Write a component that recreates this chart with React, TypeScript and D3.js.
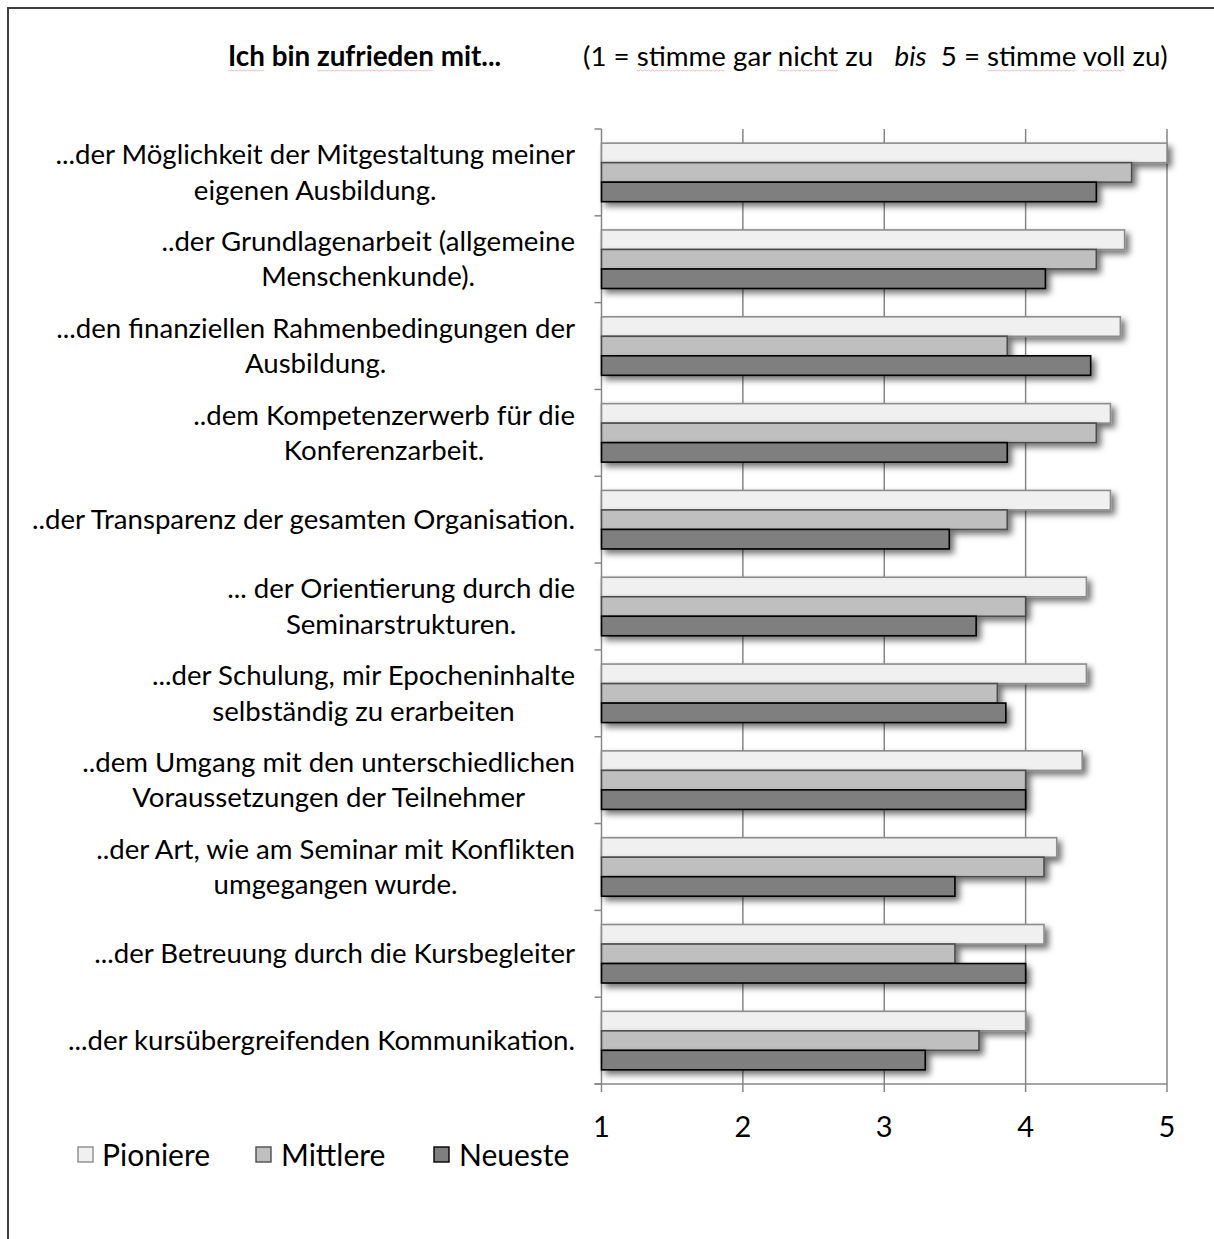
import React, { useEffect, useRef } from "react";
import * as d3 from "d3";

// Category labels, split into the lines they are printed on
const categories: string[][] = [
  ["...der Möglichkeit der Mitgestaltung meiner", "eigenen Ausbildung."],
  ["..der Grundlagenarbeit (allgemeine", "Menschenkunde)."],
  ["...den finanziellen Rahmenbedingungen der", "Ausbildung."],
  ["..dem Kompetenzerwerb für die", "Konferenzarbeit."],
  ["..der Transparenz der gesamten Organisation."],
  ["... der Orientierung durch die", "Seminarstrukturen."],
  ["...der Schulung, mir Epocheninhalte", "selbständig zu erarbeiten"],
  ["..dem Umgang mit den unterschiedlichen", "Voraussetzungen der Teilnehmer"],
  ["..der Art, wie am Seminar mit Konflikten", "umgegangen wurde."],
  ["...der Betreuung durch die Kursbegleiter"],
  ["...der kursübergreifenden Kommunikation."],
];

const seriesNames = ["Pioniere", "Mittlere", "Neueste"];

const pioniere = [5.0, 4.7, 4.67, 4.6, 4.6, 4.43, 4.43, 4.4, 4.22, 4.13, 4.0];
const mittlere = [4.75, 4.5, 3.87, 4.5, 3.87, 4.0, 3.8, 4.0, 4.13, 3.5, 3.67];
const neueste = [4.5, 4.14, 4.46, 3.87, 3.46, 3.65, 3.86, 4.0, 3.5, 4.0, 3.29];

const xTicks = [1, 2, 3, 4, 5];

const titleText = "Ich bin zufrieden mit...";
const subtitleParts = ["(1 = stimme gar nicht zu   ", "bis", "  5 = stimme voll zu)"];
// words marked by the word processor's spell checker
const titleMarked = ["Ich", "zufrieden"];
const subtitleMarked = ["stimme", "nicht", "stimme", "voll"];

const W = 1214;
const H = 1239;
const FONT = "Lato, 'Open Sans', sans-serif";

const fills = ["#f0f0f0", "#bfbfbf", "#7f7f7f"];
const strokes = ["#8c8c8c", "#4d4d4d", "#000000"];

function squiggle(
  g: d3.Selection<SVGGElement, unknown, null, undefined>,
  textEl: SVGTextElement,
  full: string,
  words: string[],
  baseY: number
) {
  let from = 0;
  words.forEach((w) => {
    const i = full.indexOf(w, from);
    if (i < 0) return;
    from = i + w.length;
    const x0 = textEl.getStartPositionOfChar(i).x;
    const x1 = textEl.getEndPositionOfChar(i + w.length - 1).x;
    const pts: string[] = [];
    for (let xx = x0, k = 0; xx <= x1; xx += 2, k++) {
      pts.push(`${xx},${baseY + (k % 2 ? 1 : 0)}`);
    }
    g.append("polyline")
      .attr("points", pts.join(" "))
      .attr("fill", "none")
      .attr("stroke", "#eab0b0")
      .attr("stroke-width", 0.8);
  });
}

export default function App() {
  const ref = useRef<SVGSVGElement | null>(null);

  useEffect(() => {
    const svg = d3.select(ref.current);
    svg.selectAll("*").remove();

    const left = 601.5;
    const right = 1167;
    const top = 129;
    const bottom = 1084;

    const x = d3.scaleLinear().domain([1, 5]).range([left, right]);
    const idx = categories.map((_, i) => i);
    const y0 = d3.scaleBand<number>().domain(idx).range([top, bottom]).padding(0);
    const y1 = d3
      .scaleBand<string>()
      .domain(seriesNames)
      .range([0, y0.bandwidth()])
      .paddingInner(0)
      .paddingOuter(0.725);

    const values = [pioniere, mittlere, neueste];

    const defs = svg.append("defs");
    const f = defs
      .append("filter")
      .attr("id", "barShadow")
      .attr("x", "-5%")
      .attr("y", "-50%")
      .attr("width", "115%")
      .attr("height", "220%");
    f.append("feDropShadow")
      .attr("dx", 4)
      .attr("dy", 4)
      .attr("stdDeviation", 3)
      .attr("flood-color", "#000")
      .attr("flood-opacity", 0.55);

    svg.append("rect").attr("width", W).attr("height", H).attr("fill", "#fff");

    // outer frame
    svg
      .append("path")
      .attr("d", `M8,${H} L8,8 L${W},8`)
      .attr("fill", "none")
      .attr("stroke", "#3f3f3f")
      .attr("stroke-width", 2);

    const marks = svg.append("g");

    // title
    const title = svg
      .append("text")
      .attr("x", 228)
      .attr("y", 66)
      .attr("font-family", FONT)
      .attr("font-size", 27.8)
      .attr("font-weight", "bold")
      .attr("fill", "#000")
      .text(titleText);
    squiggle(marks, title.node() as SVGTextElement, titleText, titleMarked, 70);

    const sub = svg
      .append("text")
      .attr("x", 583)
      .attr("y", 66)
      .attr("font-family", FONT)
      .attr("font-size", 27.7)
      .attr("fill", "#000")
      .attr("xml:space", "preserve")
      .style("white-space", "pre");
    sub.append("tspan").text(subtitleParts[0]);
    sub.append("tspan").attr("font-style", "italic").text(subtitleParts[1]);
    sub.append("tspan").text(subtitleParts[2]);
    squiggle(marks, sub.node() as SVGTextElement, subtitleParts.join(""), subtitleMarked, 70);

    // gridlines
    svg
      .append("g")
      .selectAll("line")
      .data(xTicks)
      .join("line")
      .attr("x1", (d) => x(d))
      .attr("x2", (d) => x(d))
      .attr("y1", top)
      .attr("y2", bottom + 8)
      .attr("stroke", "#878787")
      .attr("stroke-width", 1.5);

    // category axis ticks
    const bounds = d3.range(categories.length + 1).map((i) => top + i * y0.step());
    svg
      .append("g")
      .selectAll("line")
      .data(bounds)
      .join("line")
      .attr("x1", left - 7)
      .attr("x2", left)
      .attr("y1", (d) => d)
      .attr("y2", (d) => d)
      .attr("stroke", "#878787")
      .attr("stroke-width", 1.5);

    // bottom axis line
    svg
      .append("line")
      .attr("x1", left - 7)
      .attr("x2", right)
      .attr("y1", bottom)
      .attr("y2", bottom)
      .attr("stroke", "#878787")
      .attr("stroke-width", 1.5);

    // bars
    const bars = svg.append("g");
    idx.forEach((i) => {
      seriesNames.forEach((s, k) => {
        const v = values[k][i];
        bars
          .append("rect")
          .attr("x", x(1))
          .attr("y", (y0(i) as number) + (y1(s) as number))
          .attr("width", x(v) - x(1))
          .attr("height", y1.bandwidth())
          .attr("fill", fills[k])
          .attr("stroke", strokes[k])
          .attr("stroke-width", 1.6)
          .attr("filter", "url(#barShadow)");
      });
    });

    // x tick labels
    svg
      .append("g")
      .selectAll("text")
      .data(xTicks)
      .join("text")
      .attr("x", (d) => x(d))
      .attr("y", 1137)
      .attr("text-anchor", "middle")
      .attr("font-family", FONT)
      .attr("font-size", 29)
      .attr("fill", "#000")
      .text((d) => String(d));

    // category labels (right-aligned block, lines centred inside it)
    const labelRight = 575;
    const lineGap = 35.5;
    const lg = svg.append("g");
    categories.forEach((lines, i) => {
      const cy = (y0(i) as number) + y0.bandwidth() / 2;
      const texts = lines.map((ln, j) =>
        lg
          .append("text")
          .attr("y", cy + (j - (lines.length - 1) / 2) * lineGap + 9.5)
          .attr("text-anchor", "middle")
          .attr("font-family", FONT)
          .attr("font-size", 27.6)
          .attr("fill", "#000")
          .text(ln)
      );
      const widths = texts.map((t) => (t.node() as SVGTextElement).getComputedTextLength());
      const maxW = Math.max(...widths);
      texts.forEach((t) => t.attr("x", labelRight - maxW / 2));
    });

    // legend
    const legBox = [78, 256, 434];
    const legText = [102, 281, 459];
    const leg = svg.append("g");
    seriesNames.forEach((s, k) => {
      leg
        .append("rect")
        .attr("x", legBox[k])
        .attr("y", 1147)
        .attr("width", 15)
        .attr("height", 15)
        .attr("fill", fills[k])
        .attr("stroke", strokes[k])
        .attr("stroke-width", 1.4);
      leg
        .append("text")
        .attr("x", legText[k])
        .attr("y", 1166)
        .attr("font-family", FONT)
        .attr("font-size", 30)
        .attr("fill", "#000")
        .text(s);
    });
  }, []);

  return (
    <svg
      ref={ref}
      width={W}
      height={H}
      style={{ position: "absolute", left: 0, top: 0, display: "block" }}
    />
  );
}
